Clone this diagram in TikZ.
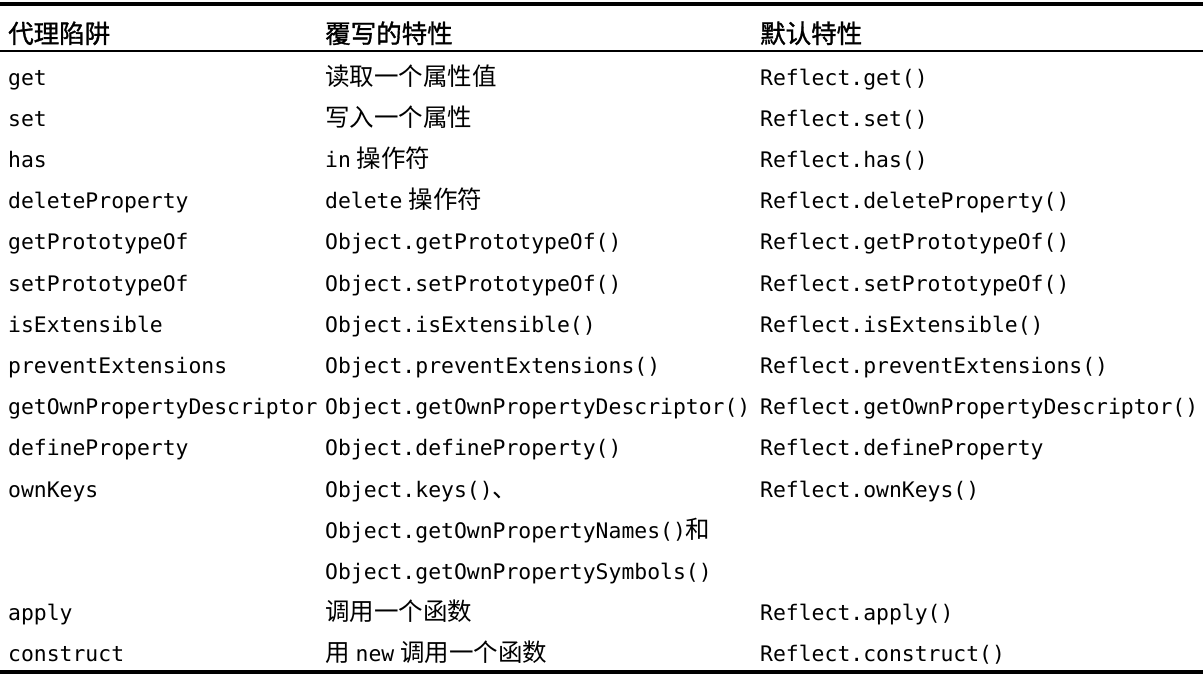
\documentclass[tikz,border=0pt]{standalone}
\usepackage{fontspec}
\setmonofont{DejaVu Sans Mono}
\newfontfamily\cjk{Noto Sans CJK SC}
\newfontfamily\cjkhead[FakeBold=1.2]{Noto Sans CJK SC}
\begin{document}
\begin{tikzpicture}[x=1pt,y=-1pt,
  cell/.style={anchor=base west,inner sep=0pt,font=\fontsize{21.4}{21.4}\selectfont\ttfamily},
  head/.style={anchor=base west,inner sep=0pt,font=\fontsize{25.5}{25.5}\selectfont\cjkhead},
  thickrule/.style={line width=3.5pt},
  thinrule/.style={line width=1.5pt}]
\useasboundingbox (0,0) rectangle (1203,675);
\coordinate (tl) at (0,4.2);
\coordinate (tr) at (1203,4.2);
\coordinate (ml) at (0,51);
\coordinate (mr) at (1203,51);
\coordinate (bl) at (0,672);
\coordinate (br) at (1203,672);
\draw[thickrule] (tl) -- (tr);
\draw[thinrule] (ml) -- (mr);
\draw[thickrule] (bl) -- (br);
\newcommand\zh[1]{{\fontsize{24.5}{24.5}\selectfont\cjk #1}}
\newcommand\gap{\hspace{6pt}}
% header
\node[head] (h1) at (8,43) {代理陷阱};
\node[head] (h2) at (325,43) {覆写的特性};
\node[head] (h3) at (760,43) {默认特性};
% rows
\node[cell] (a1) at (8,85) {get};
\node[cell] (b1) at (325,85) {\zh{读取一个属性值}};
\node[cell] (c1) at (760,85) {Reflect.get()};
\node[cell] (a2) at (8,126) {set};
\node[cell] (b2) at (325,126) {\zh{写入一个属性}};
\node[cell] (c2) at (760,126) {Reflect.set()};
\node[cell] (a3) at (8,167) {has};
\node[cell] (b3) at (325,167) {in\gap\zh{操作符}};
\node[cell] (c3) at (760,167) {Reflect.has()};
\node[cell] (a4) at (8,208) {deleteProperty};
\node[cell] (b4) at (325,208) {delete\gap\zh{操作符}};
\node[cell] (c4) at (760,208) {Reflect.deleteProperty()};
\node[cell] (a5) at (8,249) {getPrototypeOf};
\node[cell] (b5) at (325,249) {Object.getPrototypeOf()};
\node[cell] (c5) at (760,249) {Reflect.getPrototypeOf()};
\node[cell] (a6) at (8,291) {setPrototypeOf};
\node[cell] (b6) at (325,291) {Object.setPrototypeOf()};
\node[cell] (c6) at (760,291) {Reflect.setPrototypeOf()};
\node[cell] (a7) at (8,332) {isExtensible};
\node[cell] (b7) at (325,332) {Object.isExtensible()};
\node[cell] (c7) at (760,332) {Reflect.isExtensible()};
\node[cell] (a8) at (8,373) {preventExtensions};
\node[cell] (b8) at (325,373) {Object.preventExtensions()};
\node[cell] (c8) at (760,373) {Reflect.preventExtensions()};
\node[cell] (a9) at (8,414) {getOwnPropertyDescriptor};
\node[cell] (b9) at (325,414) {Object.getOwnPropertyDescriptor()};
\node[cell] (c9) at (760,414) {Reflect.getOwnPropertyDescriptor()};
\node[cell] (a10) at (8,455) {defineProperty};
\node[cell] (b10) at (325,455) {Object.defineProperty()};
\node[cell] (c10) at (760,455) {Reflect.defineProperty};
\node[cell] (a11) at (8,497) {ownKeys};
\node[cell] (b11) at (325,497) {Object.keys()\zh{、}};
\node[cell] (c11) at (760,497) {Reflect.ownKeys()};
\node[cell] (b12) at (325,538) {Object.getOwnPropertyNames()\zh{和}};
\node[cell] (b13) at (325,579) {Object.getOwnPropertySymbols()};
\node[cell] (a14) at (8,620) {apply};
\node[cell] (b14) at (325,620) {\zh{调用一个函数}};
\node[cell] (c14) at (760,620) {Reflect.apply()};
\node[cell] (a15) at (8,661) {construct};
\node[cell] (b15) at (325,661) {\zh{用}\gap new\gap\zh{调用一个函数}};
\node[cell] (c15) at (760,661) {Reflect.construct()};
\end{tikzpicture}
\end{document}
